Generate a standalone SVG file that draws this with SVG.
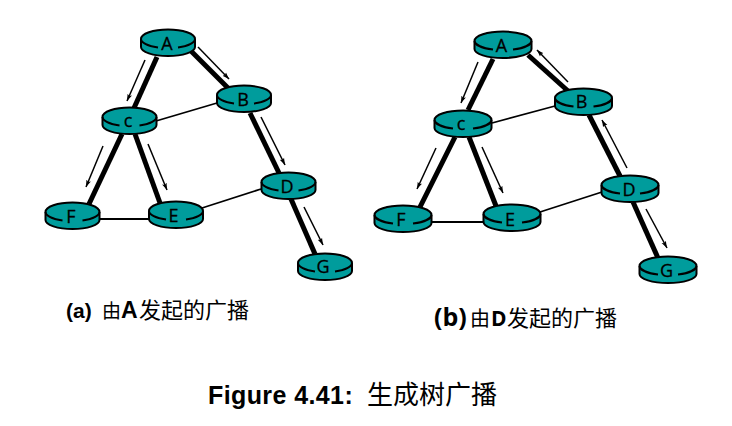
<svg xmlns="http://www.w3.org/2000/svg" width="732" height="426" viewBox="0 0 732 426">
<style>
.thick{stroke:#000;stroke-width:5;fill:none}
.thin{stroke:#000;stroke-width:1.8;fill:none}
.arrow{stroke:#000;stroke-width:1.5;fill:none;marker-end:url(#ah)}
.body{fill:#009c9c;stroke:#000;stroke-width:2}
.rim{fill:none;stroke:#000;stroke-width:2}
.n{font-family:"Open Sans",sans-serif;font-size:18px;text-anchor:middle;fill:#000;stroke:#000;stroke-width:0.3}
.cap{font-family:"Liberation Sans","Noto Sans CJK SC",sans-serif;fill:#000}
.b{font-weight:bold}
</style>
<defs>
<marker id="ah" markerUnits="userSpaceOnUse" markerWidth="10" markerHeight="8" refX="7" refY="3" orient="auto">
<path d="M0,0.6 L7,3 L0,5.4 L1.5,3 Z" fill="#000"/>
</marker>
<g id="r54">
<path class="body" d="M-27,0 V8 A27,9 0 0 0 27,8 V0 A27,9.500 0 0 0 -27,0 Z"/>
<path class="rim" d="M-27,0 A27,9.500 0 0 0 -10,8.500 M10,8.500 A27,9.500 0 0 0 27,0"/>
</g>
<g id="r57">
<path class="body" d="M-28.500,0 V8 A28.500,9 0 0 0 28.500,8 V0 A28.500,9.500 0 0 0 -28.500,0 Z"/>
<path class="rim" d="M-28.500,0 A28.500,9.500 0 0 0 -10,8.500 M10,8.500 A28.500,9.500 0 0 0 28.500,0"/>
</g>
</defs>
<g id="connectors">
<line class="thick" x1="157" y1="57" x2="134" y2="108"/>
<line class="thick" x1="190" y1="50" x2="228" y2="88"/>
<line class="thin" x1="156" y1="121" x2="217" y2="103"/>
<line class="thick" x1="122" y1="134" x2="89" y2="204"/>
<line class="thick" x1="135" y1="134" x2="160" y2="203"/>
<line class="thin" x1="99" y1="219" x2="149" y2="219"/>
<line class="thin" x1="202" y1="208" x2="261" y2="189"/>
<line class="thick" x1="250" y1="113" x2="279" y2="173"/>
<line class="thick" x1="291" y1="199" x2="315" y2="254"/>
<line class="arrow" x1="145" y1="60" x2="127" y2="101"/>
<line class="arrow" x1="198" y1="47" x2="229" y2="79"/>
<line class="arrow" x1="103" y1="146" x2="86" y2="187"/>
<line class="arrow" x1="148" y1="144" x2="167" y2="190"/>
<line class="arrow" x1="261" y1="117" x2="285" y2="165"/>
<line class="arrow" x1="304" y1="207" x2="323" y2="245"/>
<line class="thick" x1="493" y1="59" x2="468" y2="110"/>
<line class="thick" x1="528" y1="55" x2="568" y2="91"/>
<line class="thin" x1="492" y1="123" x2="555" y2="106"/>
<line class="thick" x1="455" y1="137" x2="420" y2="207"/>
<line class="thick" x1="469" y1="137" x2="496" y2="206"/>
<line class="thin" x1="431" y1="222" x2="483" y2="222"/>
<line class="thin" x1="540" y1="212" x2="602" y2="192"/>
<line class="thick" x1="589" y1="115" x2="620" y2="176"/>
<line class="thick" x1="633" y1="202" x2="658" y2="258"/>
<line class="arrow" x1="478" y1="62" x2="461" y2="103"/>
<line class="arrow" x1="568" y1="82" x2="537" y2="50"/>
<line class="arrow" x1="436" y1="148" x2="417" y2="189"/>
<line class="arrow" x1="482" y1="147" x2="503" y2="193"/>
<line class="arrow" x1="627" y1="168" x2="602" y2="120"/>
<line class="arrow" x1="646" y1="209" x2="667" y2="248"/>
</g>
<g id="a-A"><use href="#r54" x="168" y="39"/><text class="n" x="167" y="49.500">A</text></g>
<g id="a-B"><use href="#r54" x="244" y="95"/><text class="n" x="243" y="105.500">B</text></g>
<g id="a-C"><use href="#r54" x="129.500" y="117"/><text class="n" x="128" y="127">c</text></g>
<g id="a-D"><use href="#r54" x="288.500" y="182"/><text class="n" x="287" y="192.500">D</text></g>
<g id="a-E"><use href="#r54" x="176" y="211"/><text class="n" x="173.500" y="222">E</text></g>
<g id="a-F"><use href="#r54" x="72.500" y="212"/><text class="n" x="71" y="222.500">F</text></g>
<g id="a-G"><use href="#r54" x="325" y="263"/><text class="n" x="323" y="273">G</text></g>
<g id="b-A"><use href="#r57" x="503" y="41"/><text class="n" x="501.500" y="51.500">A</text></g>
<g id="b-B"><use href="#r57" x="583.500" y="98"/><text class="n" x="581.500" y="108">B</text></g>
<g id="b-C"><use href="#r57" x="463" y="120"/><text class="n" x="461" y="129.500">c</text></g>
<g id="b-D"><use href="#r57" x="630" y="185"/><text class="n" x="629" y="196">D</text></g>
<g id="b-E"><use href="#r57" x="512" y="214"/><text class="n" x="510" y="226">E</text></g>
<g id="b-F"><use href="#r57" x="403" y="215"/><text class="n" x="401" y="226">F</text></g>
<g id="b-G"><use href="#r57" x="668" y="266"/><text class="n" x="666.500" y="276.500">G</text></g>
<text class="cap" y="318"><tspan class="b" x="66" font-size="21">(a)</tspan><tspan x="102" font-size="19">由</tspan><tspan class="b" x="121" font-size="23">A</tspan><tspan x="139" font-size="22">发起的广播</tspan></text>
<text class="cap" y="326"><tspan class="b" x="434" font-size="25" style="font-family:'Open Sans',sans-serif">(b)</tspan><tspan x="470" font-size="20">由</tspan><tspan class="b" x="491" font-size="21" style="font-family:'Open Sans',sans-serif">D</tspan><tspan x="507" font-size="22">发起的广播</tspan></text>
<text class="cap" y="404"><tspan class="b" x="208" font-size="25" letter-spacing="0.4">Figure 4.41:</tspan><tspan x="367" font-size="26">生成树广播</tspan></text>
</svg>
